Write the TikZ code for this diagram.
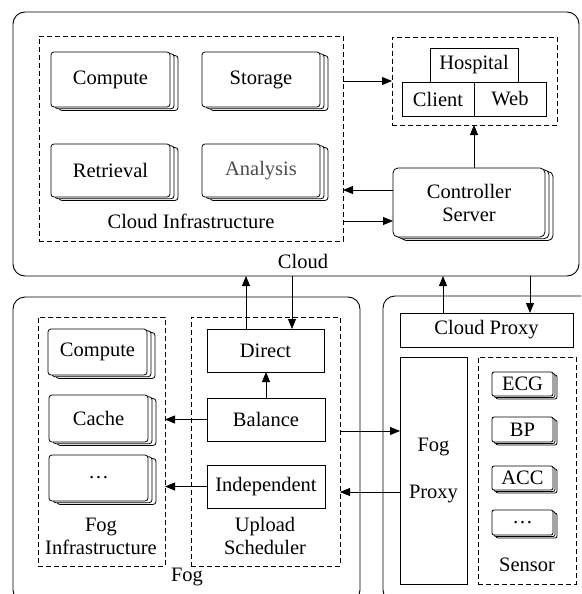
\documentclass[tikz,border=0pt]{standalone}
\usepackage{fontspec}
\setmainfont{Liberation Serif}
\usetikzlibrary{shadows,arrows.meta}
\newcommand\mynode[7]{\node[#1, minimum width={(#5-#3)*1pt}, minimum height={(#6-#4)*1pt}] (#2) at ({(#3+#5)/2},{(#4+#6)/2}) {#7};}
\begin{document}
\begin{tikzpicture}[x=1pt,y=-1pt,
  font=\fontsize{20.5}{23}\selectfont,
  every node/.style={inner sep=0pt, outer sep=0pt},
  outerbox/.style={draw, line width=0.9pt, rounded corners=12pt},
  dbox/.style={draw, line width=0.8pt, dash pattern=on 5pt off 3pt},
  plain/.style={draw, line width=0.8pt, fill=white},
  stackbox/.style={draw, line width=0.8pt, fill=white, rounded corners=3pt,
     copy shadow={shadow xshift=8pt, shadow yshift=-3.5pt, draw, fill=white, line width=0.8pt},
     copy shadow={shadow xshift=4pt, shadow yshift=-1.75pt, draw, fill=white, line width=0.8pt}},
  smallstack/.style={draw, line width=0.8pt, fill=white, rounded corners=2pt,
     copy shadow={shadow xshift=4pt, shadow yshift=-3pt, draw, fill=white, line width=0.8pt},
     copy shadow={shadow xshift=2pt, shadow yshift=-1.5pt, draw, fill=white, line width=0.8pt}},
  arr/.style={line width=0.8pt, -{Triangle[length=10pt,width=8pt]}},
]
\useasboundingbox (0,0) rectangle (581,594);
\clip (0,0) rectangle (581,594);

% ---------------- Cloud ----------------
\mynode{outerbox}{cloud}{13}{12}{579}{276}{}
\node (cloudlbl) at (303,261) {Cloud};

\mynode{dbox}{cinfra}{39}{36}{343}{241}{}
\mynode{stackbox}{ccomp}{51}{52}{170}{107}{Compute}
\mynode{stackbox}{cstor}{202}{52}{320}{107}{Storage}
\mynode{stackbox}{cretr}{51}{144}{170}{197}{Retrieval}
\mynode{stackbox, text=black!70}{canal}{202}{144}{320}{197}{Analysis}
\node (cinfralbl) at (191,221) {Cloud Infrastructure};

\mynode{dbox}{hgrp}{392}{37}{557}{125}{}
\mynode{plain}{hosp}{430}{48}{518}{82}{Hospital}
\mynode{plain}{client}{402}{82}{474}{116}{Client}
\mynode{plain}{web}{474}{82}{546}{116}{Web}

\mynode{stackbox, rounded corners=5pt, align=center}{ctrl}{393}{168}{545}{237}{Controller\\Server}

\draw[arr] (cinfra.east |- 0,81) -- (hgrp.west |- 0,81);
\draw[arr] (ctrl.north -| client.east) -- (client.east |- hgrp.south);
\draw[arr] (ctrl.west |- 0,190) -- (cinfra.east |- 0,190);
\draw[arr] (cinfra.east |- 0,221) -- (ctrl.west |- 0,221);

% ---------------- Fog ----------------
\mynode{outerbox}{fog}{13}{297}{360}{602}{}
\node (foglbl) at (187,577) {Fog};

\mynode{dbox}{finfra}{38}{317}{165}{566}{}
\mynode{stackbox}{fcomp}{48}{329}{147}{375}{Compute}
\mynode{stackbox}{fcache}{49}{395}{148}{442}{Cache}
\mynode{stackbox}{fdots}{49}{455}{148}{501}{\ldots}
\node[align=center] (finfralbl) at (101,536) {Fog\\Infrastructure};

\mynode{dbox}{upsch}{191}{317}{340}{566}{}
\mynode{plain}{direct}{207}{329}{324}{372}{Direct}
\mynode{plain}{balance}{207}{398}{325}{441}{Balance}
\mynode{plain}{indep}{207}{465}{325}{508}{Independent}
\node[align=center] (upschlbl) at (265,536) {Upload\\Scheduler};

\draw[arr] (direct.north -| 246,0) -- (cloud.south -| 246,0);
\draw[arr] (cloud.south -| 292,0) -- (direct.north -| 292,0);
\draw[arr] (balance.north -| 266,0) -- (direct.south -| 266,0);
\draw[arr] (balance.west) -- (finfra.east |- balance.west);
\draw[arr] (indep.west) -- (finfra.east |- indep.west);

% ---------------- Device side ----------------
\mynode{outerbox}{dev}{383}{296}{600}{602}{}
\mynode{plain}{cproxy}{400}{313}{573}{347}{Cloud Proxy}
\mynode{plain, align=center}{fproxy}{400}{357}{467}{584}{Fog\\[24pt]Proxy}
\mynode{dbox}{sensor}{478}{357}{576}{584}{}
\mynode{smallstack}{ecg}{492}{372}{553}{396}{ECG}
\mynode{smallstack}{bp}{492}{417}{553}{442}{BP}
\mynode{smallstack}{acc}{492}{466}{553}{490}{ACC}
\mynode{smallstack}{sdots}{492}{510}{553}{535}{\ldots}
\node (sensorlbl) at (527,565) {Sensor};

\draw[arr] (cproxy.north -| 443,0) -- (cloud.south -| 443,0);
\draw[arr] (cloud.south -| 530,0) -- (cproxy.north -| 530,0);
\draw[arr] (upsch.east |- 0,431) -- (fproxy.west |- 0,431);
\draw[arr] (fproxy.west |- 0,492) -- (upsch.east |- 0,492);
\end{tikzpicture}
\end{document}
